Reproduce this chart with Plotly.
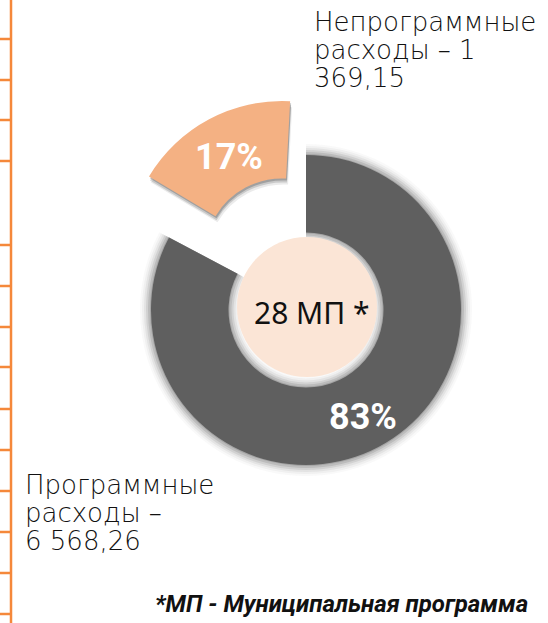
import math
import plotly.graph_objects as go

# ---- data ----
categories = ["Программные расходы", "Непрограммные расходы"]
values = [6568.26, 1369.15]
center_label = "28 МП *"
label_top_lines = ["Непрограммные", "расходы – 1", "369,15"]
label_bottom_lines = ["Программные", "расходы –", "6 568,26"]
footnote = "*МП - Муниципальная программа"
ruler_ticks = [39, 80, 120, 161, 245, 286, 327, 367, 409, 450, 491, 532, 573, 614]

W, H = 548, 623
DARK = "#5F5F5F"
PEACH = "#F4B183"
CENTER = "#FBE5D6"
ORANGE = "#F5883A"
TRANSP = "rgba(0,0,0,0)"
BOLD_FONT = "Roboto, Liberation Sans Narrow, sans-serif"
LABEL_FONT = "DejaVu Sans, sans-serif"


def dom(cx, cy, r):
    return dict(x=[(cx - r) / W, (cx + r) / W], y=[(H - cy - r) / H, (H - cy + r) / H])


def ring(cx, cy, r, hole, colors, rotation=0):
    return go.Pie(
        labels=categories, values=values, sort=False, direction="clockwise",
        rotation=rotation, domain=dom(cx, cy, r), hole=hole,
        marker=dict(colors=colors, line=dict(width=0)),
        textinfo="none", hoverinfo="skip", showlegend=False,
    )


fig = go.Figure()

# soft edge (blur) of the dark ring
CX, CY, R, RI = 306, 310, 155, 77.5
for k, a in [(11, 0.04), (9, 0.06), (7, 0.09), (5, 0.13), (3, 0.18), (1, 0.25)]:
    fig.add_trace(ring(CX, CY, R + k, (RI - k) / (R + k), [f"rgba(95,95,95,{a})", TRANSP]))
fig.add_trace(ring(CX, CY, R, RI / R, [DARK, TRANSP]))

# exploded slice with a soft shadow
PX, PY, PROT = 282, 256, 3
for dx, dy, a in [(2, 6, 0.08), (1, 4, 0.14), (1, 2, 0.2)]:
    fig.add_trace(ring(PX + dx, PY + dy, R, RI / R, [TRANSP, f"rgba(0,0,0,{a})"], PROT))
fig.add_trace(ring(PX, PY, R, RI / R, [TRANSP, PEACH], PROT))

# percentage labels at the middle of each slice (angles from the data)
total = sum(values)
shares = [v / total for v in values]
mid_dark = 360 * shares[0] / 2 + 3
mid_peach = 360 * (shares[0] + shares[1] / 2) + PROT
label_pos = [
    (CX + 121 * math.sin(math.radians(mid_dark)), CY - 121 * math.cos(math.radians(mid_dark))),
    (PX + 112 * math.sin(math.radians(mid_peach)), PY - 112 * math.cos(math.radians(mid_peach))),
]

shapes = [
    dict(type="circle", xref="paper", yref="paper",
         x0=(307 - 70) / W, x1=(307 + 70) / W, y0=(H - 377) / H, y1=(H - 237) / H,
         fillcolor=CENTER, line=dict(width=0), layer="above"),
    dict(type="line", xref="paper", yref="paper", x0=11 / W, x1=11 / W, y0=0, y1=1,
         line=dict(color=ORANGE, width=2.5)),
]
for t in ruler_ticks:
    shapes.append(dict(type="line", xref="paper", yref="paper", x0=0, x1=11 / W,
                       y0=(H - t) / H, y1=(H - t) / H, line=dict(color=ORANGE, width=2.5)))

annotations = [
    dict(text=center_label, x=312 / W, y=(H - 313) / H, xref="paper", yref="paper",
         xanchor="center", yanchor="middle", showarrow=False,
         font=dict(family="Noto Sans, sans-serif", size=30, color="#111111")),
    dict(text=footnote, x=530 / W, y=(H - 604) / H, xref="paper", yref="paper",
         xanchor="right", yanchor="middle", showarrow=False,
         font=dict(family=BOLD_FONT, size=24, color="#111111", weight="bold", style="italic")),
]
for s, (lx, ly) in zip(shares, label_pos):
    annotations.append(dict(text=f"{s:.0%}", x=lx / W, y=(H - ly) / H, xref="paper", yref="paper",
                            xanchor="center", yanchor="middle", showarrow=False,
                            font=dict(family=BOLD_FONT, size=36, color="white", weight="bold")))
for i, line in enumerate(label_top_lines):
    annotations.append(dict(text=line, x=312 / W, y=(H - (22 + 28 * i)) / H, xref="paper", yref="paper",
                            xanchor="left", yanchor="middle", showarrow=False,
                            font=dict(family=LABEL_FONT, size=26, color="#111111", weight=200)))
for i, line in enumerate(label_bottom_lines):
    annotations.append(dict(text=line, x=23 / W, y=(H - (485 + 28 * i)) / H, xref="paper", yref="paper",
                            xanchor="left", yanchor="middle", showarrow=False,
                            font=dict(family=LABEL_FONT, size=26, color="#111111", weight=200)))

fig.update_layout(
    width=W, height=H, margin=dict(l=0, r=0, t=0, b=0),
    paper_bgcolor="white", plot_bgcolor="white",
    shapes=shapes, annotations=annotations,
)
fig.write_html("out.html", config={"displayModeBar": False},
               post_script="document.body.style.margin='0';document.body.style.overflow='hidden';")
